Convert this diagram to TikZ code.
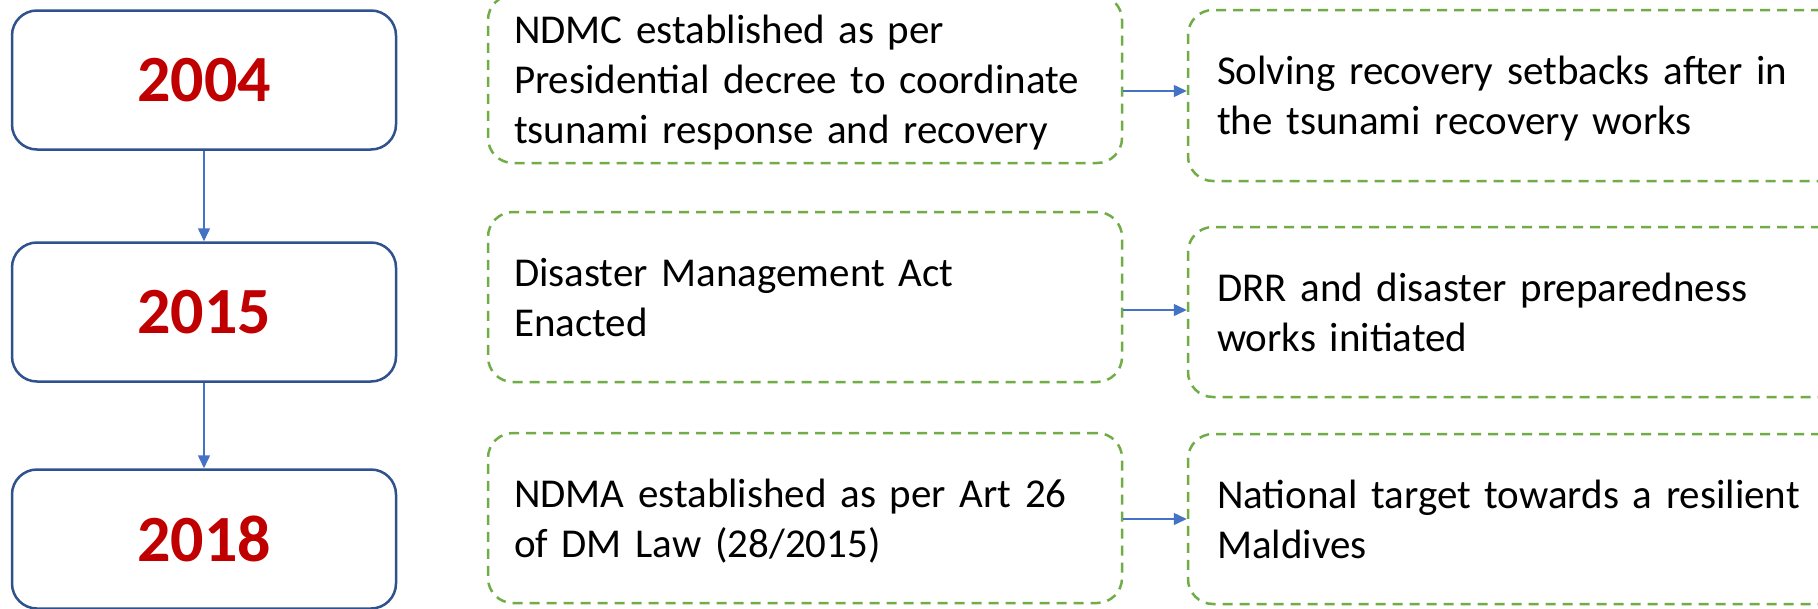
\documentclass[tikz,border=0pt]{standalone}
\usepackage{fontspec}
\setmainfont{Carlito}
\usetikzlibrary{arrows.meta}
\definecolor{yearblue}{HTML}{2F528F}
\definecolor{dashgreen}{HTML}{70AD47}
\definecolor{arrowblue}{HTML}{4472C4}
\definecolor{yearred}{HTML}{C00000}
\newcommand\lnstrut{\rule[-11pt]{0pt}{50pt}}
\begin{document}
\begin{tikzpicture}[x=1pt,y=-1pt,
  yearbox/.style={draw=yearblue, line width=2.5pt, rounded corners=25pt,
    minimum width=384pt, minimum height=139pt, inner sep=0pt,
    text=yearred, font=\fontsize{66}{70}\selectfont\bfseries},
  eventbox/.style={draw=dashgreen, line width=2.5pt, dash pattern=on 10pt off 7pt,
    rounded corners=25pt, inner ysep=0pt, align=left,
    font=\fontsize{41}{50}\selectfont,
    execute at begin node=\lnstrut, execute at end node=\lnstrut},
  midbox/.style={eventbox, inner xsep=26pt, text width=582pt},
  rightbox/.style={eventbox, inner xsep=29pt, text width=600pt},
  link/.style={draw=arrowblue, line width=1.5pt, -{Triangle[length=13pt,width=12pt]}}
]
\useasboundingbox (0,0) rectangle (1818,608);
\fill[white] (0,0) rectangle (1818,608);

\node[yearbox] (y1) at (204,80) {2004};
\node[yearbox] (y2) at (204,312) {2015};
\node[yearbox] (y3) at (204,539) {2018};

\node[midbox, minimum height=168pt] (m1) at (805,79)
  {NDMC established as per\\Presidential decree to coordinate\\tsunami response and recovery};
\node[midbox, minimum height=170pt] (m2) at (805,297)
  {Disaster Management Act\\Enacted};
\node[midbox, minimum height=170pt] (m3) at (805,518)
  {NDMA established as per Art 26\\of DM Law (28/2015)};

\node[rightbox, minimum height=171pt] (r1) at (1517,95.5)
  {Solving recovery setbacks after in\\the tsunami recovery works};
\node[rightbox, minimum height=170pt] (r2) at (1517,312)
  {DRR and disaster preparedness\\works initiated};
\node[rightbox, minimum height=170pt] (r3) at (1517,519)
  {National target towards a resilient\\Maldives};

\draw[link] (y1.south) -- (y2.north);
\draw[link] (y2.south) -- (y3.north);
\draw[link] ([yshift=4.5pt]m1.east |- r1.west) -- ([yshift=4.5pt]r1.west);
\draw[link] ([yshift=2pt]m2.east |- r2.west) -- ([yshift=2pt]r2.west);
\draw[link] (m3.east |- r3.west) -- (r3.west);
\end{tikzpicture}
\end{document}
